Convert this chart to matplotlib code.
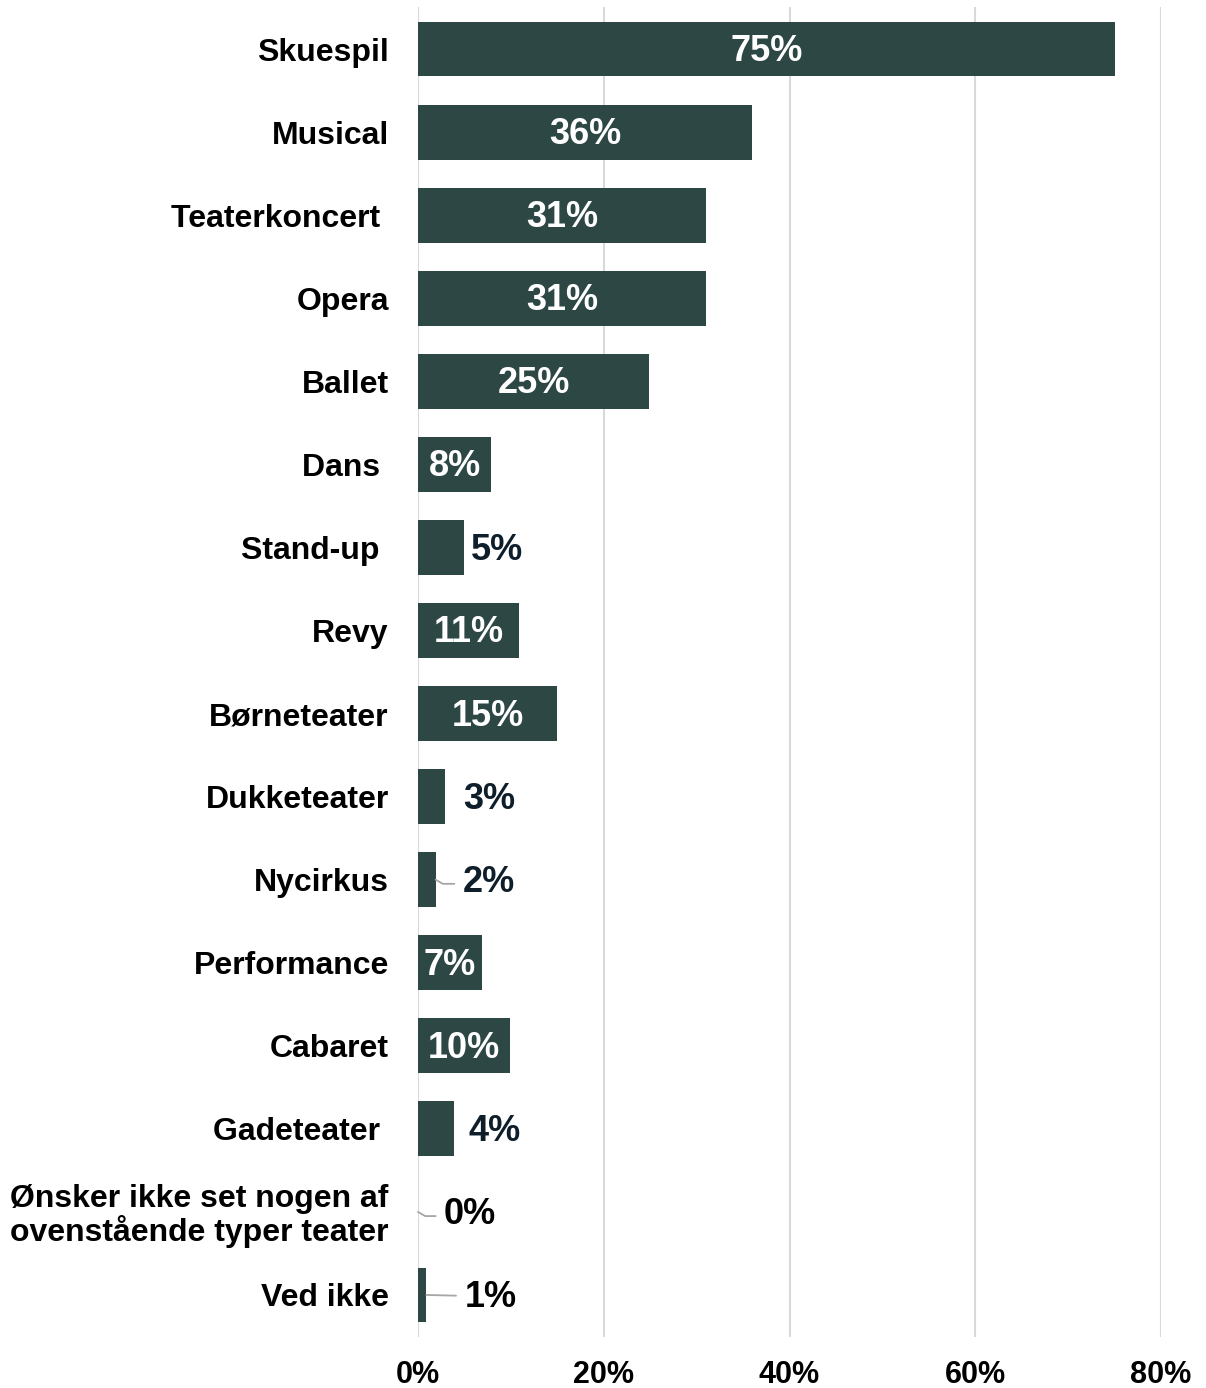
import matplotlib
matplotlib.use("Agg")
from matplotlib import pyplot as plt
import numpy as np

plt.rcParams['font.family'] = ['Liberation Sans', 'DejaVu Sans']

categories = ["Skuespil", "Musical", "Teaterkoncert ", "Opera", "Ballet", "Dans ",
              "Stand-up ", "Revy", "Børneteater", "Dukketeater", "Nycirkus",
              "Performance", "Cabaret", "Gadeteater ",
              "Ønsker ikke set nogen af\novenstående typer teater", "Ved ikke"]
values = [75.0, 36.0, 31.0, 31.0, 24.9, 7.9, 4.9, 10.9, 15.0, 2.9, 1.9,
          6.9, 9.9, 3.9, 0.0, 0.9]
value_labels = ["75%", "36%", "31%", "31%", "25%", "8%", "5%", "11%", "15%",
                "3%", "2%", "7%", "10%", "4%", "0%", "1%"]
xticks = [0, 20, 40, 60, 80]
xtick_labels = ["0%", "20%", "40%", "60%", "80%"]

# labels outside the bar: index -> offset in px from bar end
outside = {6: 7, 9: 18, 10: 27, 13: 14, 14: 26, 15: 38}
# leader lines: index -> connection style
leaders = {10: "angle,angleA=0,angleB=-30,rad=0",
           14: "angle,angleA=0,angleB=-30,rad=0",
           15: "arc3,rad=0"}

bar_color = "#2d4745"
dark = "#0e1f2b"

fig = plt.figure(figsize=(12.06, 13.88), dpi=100)
ax = fig.add_axes([0.3466, 0.0371, 0.9627 - 0.3466, 0.9946 - 0.0371])

y = np.arange(len(categories))
ax.barh(y, values, height=0.66, color=bar_color, zorder=3)
ax.set_xlim(0, 80)
ax.set_ylim(len(categories) - 0.5, -0.5)

for i, (v, lab) in enumerate(zip(values, value_labels)):
    if i in outside:
        off = outside[i]
        col = "black" if i in (14, 15) else dark
        ax.annotate(lab, (v, i), xytext=(off * 0.72, -2), textcoords="offset points",
                    ha="left", va="center", fontsize=26, fontweight="bold",
                    color=col, zorder=4)
        if i in leaders:
            dy = -0.5 if i == 15 else -3
            ax.annotate("", (v, i), xytext=(off * 0.72 - 6, dy),
                        textcoords="offset points",
                        arrowprops=dict(arrowstyle="-", color="#a6a6a6", lw=1.3,
                                        shrinkA=0, shrinkB=0,
                                        connectionstyle=leaders[i]),
                        zorder=4)
    else:
        ax.text(v / 2, i + 0.03, lab, ha="center", va="center", fontsize=26,
                fontweight="bold", color="white", zorder=4)

ax.set_yticks(y)
ax.set_yticklabels(categories, fontsize=23, fontweight="bold", linespacing=1.05)
ax.set_xticks(xticks)
ax.set_xticklabels(xtick_labels, fontsize=22, fontweight="bold")
ax.tick_params(axis="y", length=0, pad=21)
ax.tick_params(axis="x", length=0, pad=17)

ax.grid(axis="x", color="#d9d9d9", lw=1.5, zorder=0)
for s in ax.spines.values():
    s.set_visible(False)

fig.savefig("out.png", dpi=100, facecolor="white")
